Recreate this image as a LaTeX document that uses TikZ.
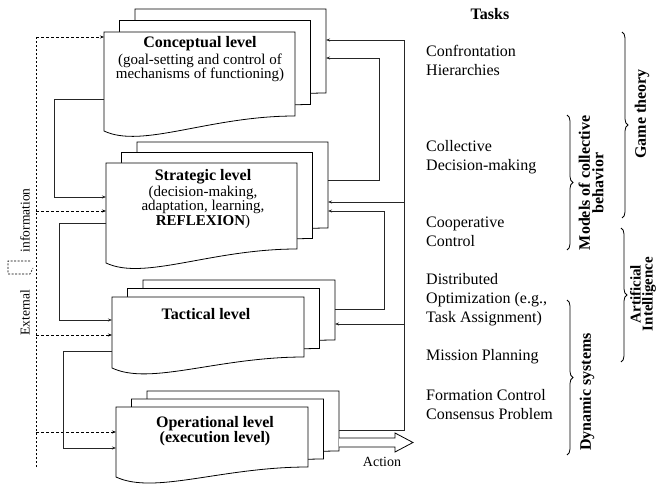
\documentclass[tikz,border=0pt]{standalone}
\usepackage{fontspec}
\setmainfont{Liberation Serif}
\usetikzlibrary{arrows.meta,decorations.pathreplacing}

\tikzset{
 page/.style={draw=black, fill=white, line width=0.8pt},
 anchorbox/.style={inner sep=0pt, outer sep=0pt, draw=none, rectangle},
 fb/.style={draw=black!85, line width=0.8pt, -{Stealth[length=4pt,width=3pt]}},
 fbline/.style={draw=black!85, line width=0.8pt},
 ext/.style={draw=black, line width=0.7pt, dash pattern=on 3pt off 2pt, -{Stealth[length=4pt,width=3pt]}},
 extline/.style={draw=black, line width=0.7pt, dash pattern=on 2pt off 2pt},
 desc/.style={font=\fontsize{15}{13.5}\selectfont, align=center, inner sep=0pt},
 title/.style={font=\fontsize{16}{13.5}\selectfont\bfseries, align=center, inner sep=0pt},
 task/.style={font=\fontsize{16}{19}\selectfont, align=left, anchor=west, inner sep=0pt},
 bracelbl/.style={font=\fontsize{16}{13.5}\selectfont\bfseries, align=center, rotate=90, inner sep=0pt},
 brc/.style={decorate, decoration={brace, amplitude=6pt}, line width=0.8pt},
}

\newcommand\wavepath[5]{(#1,#2) -- (#3,#2) -- (#3,#4) .. controls ({#1+0.55*(#3-#1)},{#4}) and ({#1+0.2*(#3-#1)},{#5+18}) .. (#1,#5) -- cycle}

% #1 name, #2 L, #3 T, #4 R, #5 BR, #6 BL, #7 dy
\newcommand\levelstack[7]{%
  \begin{scope}[shift={(31,{-2*#7})}]\draw[page] \wavepath{#2}{#3}{#4}{#5}{#6};\end{scope}
  \begin{scope}[shift={(15.5,{-#7})}]\draw[page] \wavepath{#2}{#3}{#4}{#5}{#6};\end{scope}
  \draw[page] \wavepath{#2}{#3}{#4}{#5}{#6};
  \node[anchorbox, anchor=north west, minimum width={#4-#2}, minimum height={#5-#3}] (#1) at (#2,#3) {};
  \node[anchorbox, anchor=north west, minimum width={#4-#2}, minimum height={#5-#3}] (#13) at ({#2+31},{#3-2*#7}) {};
}

\begin{document}
\begin{tikzpicture}[x=1pt,y=-1pt]
\useasboundingbox (0,0) rectangle (657,484);
\clip (0,0) rectangle (657,484);

% level stacks
\levelstack{C}{104}{32}{295}{116}{131}{11.5}
\levelstack{S}{106}{163}{297}{249}{263}{10.5}
\levelstack{T}{112}{297}{304}{357}{368}{8.5}
\levelstack{O}{116}{407}{308}{467}{477}{8}

% texts in boxes
\node[desc] (Ctext) at (200,59) {{\fontsize{16}{14}\selectfont\bfseries Conceptual level}\\[2pt](goal-setting and control of\\mechanisms of functioning)};
\node[desc] (Stext) at (203,199) {{\fontsize{16}{14}\selectfont\bfseries Strategic level}\\[1pt](decision-making,\\adaptation, learning,\\\textbf{REFLEXION})};
\node[title] (Ttext) at (206,314) {Tactical level};
\node[title] (Otext) at (215,431) {Operational level\\(execution level)};

% external information (dashed)
\coordinate (e0) at (36,467);
\coordinate (e1) at (36,37);
\coordinate (e2) at (36,211);
\coordinate (e3) at (36,335);
\coordinate (e4) at (36,432);
\draw[extline] (e0) -- (e1);
\draw[ext] (e1) -- (C.west |- e1);
\draw[ext] (e2) -- (S.west |- e2);
\draw[ext] (e3) -- (T.west |- e3);
\draw[ext] (e4) -- (O.west |- e4);
\node[font=\fontsize{13.5}{14}\selectfont, rotate=90, inner sep=0pt] (extlbl) at (25,262) {External\hspace{38pt}information};
\draw[line width=0.6pt, dash pattern=on 2pt off 1.5pt] (30,261) -- (8,261) -- (8,274) -- (30,274) -- (33,268);

% left feedback (downward)
\draw[fb] (C.west |- 0,99) -- (54,99) -- (54,197) -- (S.west |- 0,197);
\draw[fb] (S.west |- 0,223) -- (59,223) -- (59,320) -- (T.west |- 0,320);
\draw[fb] (T.west |- 0,351) -- (63,351) -- (63,448) -- (O.west |- 0,448);

% right feedback (upward)
\coordinate (b1) at (404,202);
\coordinate (b2) at (404,324);
\draw[fb] (O3.east |- 0,430) -- (404,430) -- (404,40) -- (C3.east |- 0,40);
\draw[fb] (b1) -- (S3.east |- b1);
\draw[fb] (b2) -- (T3.east |- b2);
\draw[fb] (S3.east |- 0,180) -- (379,180) -- (379,58) -- (C3.east |- 0,58);
\draw[fb] (T3.east |- 0,309) -- (384,309) -- (384,211) -- (S3.east |- 0,211);

% action arrow
\draw[line width=0.8pt, fill=white] (O3.east |- 0,438) -- (395,438) -- (395,433) -- (413,442.5) -- (395,452) -- (395,447) -- (O3.east |- 0,447);
\node[font=\fontsize{14}{14}\selectfont, inner sep=0pt] (action) at (382,462) {Action};

% tasks
\node[font=\fontsize{16}{16}\selectfont\bfseries, inner sep=0pt] (tasks) at (490,14) {Tasks};
\node[task] (t1) at (426,60) {Confrontation\\Hierarchies};
\node[task] (t2) at (426,157) {Collective\\Decision-making};
\node[task] (t3) at (426,232) {Cooperative\\Control};
\node[task] (t4) at (426,299.5) {Distributed\\Optimization (e.g.,\\Task Assignment)};
\node[task] (t5) at (426,357) {Mission Planning};
\node[task] (t6) at (426,404.5) {Formation Control\\Consensus Problem};

% braces
\draw[brc] (622,32) -- (622,218);
\draw[brc] (567,115) -- (567,250);
\draw[brc] (621,228) -- (621,362);
\draw[brc] (567,300) -- (567,455);
\node[bracelbl] (gt) at (642,114) {Game theory};
\node[bracelbl] (mcb) at (591,183) {Models of collective\\behavior};
\node[bracelbl, font=\fontsize{15}{12}\selectfont\bfseries] (ai) at (643,294) {Artificial\\Intelligence};
\node[bracelbl] (ds) at (587,392) {Dynamic systems};
\end{tikzpicture}
\end{document}
